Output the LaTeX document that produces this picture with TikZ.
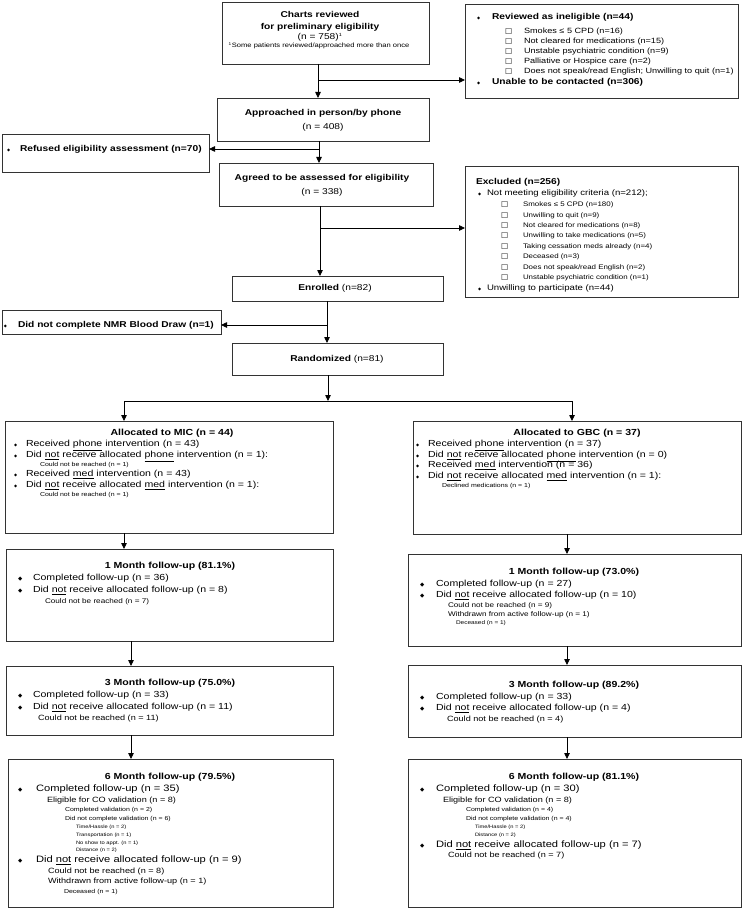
\documentclass[tikz,border=0pt]{standalone}
\usepackage{fontspec}
\setmainfont{Liberation Sans}[FakeStretch=1.2]
\newfontfamily\symf{DejaVu Sans}
\usetikzlibrary{arrows.meta,calc,fit}
\newcommand\fsz[1]{\fontsize{#1}{#1}\selectfont}
\newcommand\bl{{\symf\fsz{4}◆}}
\newcommand\bL{{\symf\fsz{5.5}◆}}
\newcommand\cbx{{\symf\fsz{7.5}□}}
\begin{document}
\begin{tikzpicture}[x=1pt,y=-1pt,
 box/.style={draw=black!80,line width=0.9pt,inner sep=0pt,outer sep=0pt},
 arr/.style={draw=black,line width=0.8pt,-{Triangle[length=6pt,width=5.5pt]}},
 ln/.style={draw=black,line width=0.8pt},
 tl/.style={anchor=mid west,inner sep=0pt,outer sep=0pt},
 tc/.style={anchor=mid,inner sep=0pt,outer sep=0pt},
 hb/.style={font=\bfseries\fsz{8.5}},
 rg/.style={font=\fsz{8.5}},
 sm/.style={font=\fsz{7.6}},
 xs/.style={font=\fsz{6.6}},
 it/.style={font=\fsz{8.8}},
 s1/.style={font=\fsz{6.8}},
 s2/.style={font=\fsz{7.6}},
 s3/.style={font=\fsz{5.8}},
 s4/.style={font=\fsz{4.8}}]
\useasboundingbox (0,0) rectangle (742,909);
\fill[white] (0,0) rectangle (742,909);
% boxes
\node[box,fit={(222,2) (429,64)}] (B1) {};
\node[box,fit={(465,4) (738,98)}] (B2) {};
\node[box,fit={(217,98) (429,141)}] (B3) {};
\node[box,fit={(2,134) (209,172)}] (B4) {};
\node[box,fit={(219,163) (433,206)}] (B5) {};
\node[box,fit={(465,166) (738,297)}] (B6) {};
\node[box,fit={(232,276) (443,301)}] (B7) {};
\node[box,fit={(2,310) (221,334)}] (B8) {};
\node[box,fit={(232,343) (443,375)}] (B9) {};
\node[box,fit={(5,421) (333,533)}] (B10) {};
\node[box,fit={(413,421) (741,534)}] (B11) {};
\node[box,fit={(6,549) (333,641)}] (B12) {};
\node[box,fit={(408,554) (741,646)}] (B13) {};
\node[box,fit={(6,666) (333,735)}] (B14) {};
\node[box,fit={(408,665) (741,737)}] (B15) {};
\node[box,fit={(8,759) (333,907)}] (B16) {};
\node[box,fit={(408,759) (741,907)}] (B17) {};
% connectors
\coordinate (c1) at ($(B1.south west)+(96,0)$);
\draw[arr] (c1) -- (c1 |- B3.north);
\coordinate (j1) at (318,80);
\draw[arr] (j1) -- (j1 -| B2.west);
\coordinate (c2) at ($(B3.south west)+(102,0)$);
\draw[arr] (c2) -- (c2 |- B5.north);
\coordinate (j2) at (319,149);
\draw[arr] (j2) -- (j2 -| B4.east);
\coordinate (c3) at ($(B5.south west)+(101,0)$);
\draw[arr] (c3) -- (c3 |- B7.north);
\coordinate (j3) at (320,228);
\draw[arr] (j3) -- (j3 -| B6.west);
\coordinate (c4) at ($(B7.south west)+(95,0)$);
\draw[arr] (c4) -- (c4 |- B9.north);
\coordinate (j4) at (327,325);
\draw[arr] (j4) -- (j4 -| B8.east);
\coordinate (c5) at ($(B9.south west)+(96,0)$);
\coordinate (j5) at (328,401);
\draw[arr] (c5) -- (j5);
\coordinate (j6) at (124,401);
\coordinate (j7) at (572,401);
\draw[ln] (j6) -- (j7);
\draw[arr] (j6) -- (j6 |- B10.north);
\draw[arr] (j7) -- (j7 |- B11.north);
\coordinate (c6) at ($(B10.south west)+(119,0)$);
\draw[arr] (c6) -- (c6 |- B12.north);
\coordinate (c7) at ($(B11.south west)+(154,0)$);
\draw[arr] (c7) -- (c7 |- B13.north);
\coordinate (c8) at ($(B12.south west)+(125,0)$);
\draw[arr] (c8) -- (c8 |- B14.north);
\coordinate (c9) at ($(B13.south west)+(159,0)$);
\draw[arr] (c9) -- (c9 |- B15.north);
\coordinate (c10) at ($(B14.south west)+(125,0)$);
\draw[arr] (c10) -- (c10 |- B16.north);
\coordinate (c11) at ($(B15.south west)+(159,0)$);
\draw[arr] (c11) -- (c11 |- B17.north);
% B1
\node[tc,hb] (t1) at (320,15) {Charts reviewed};
\node[tc,hb] (t2) at (320,27) {for preliminary eligibility};
\node[tc,rg] (t3) at (320,37) {(n = 758)\textsuperscript{\fsz{4.5}1}};
\node[tc,font=\fsz{6.3}] (t4) at (319,45) {\textsuperscript{\fsz{4}1}Some patients reviewed/approached more than once};
% B2
\node[tl] (t5) at (477,17) {\bl};
\node[tl,hb] (t6) at (492,17) {Reviewed as ineligible (n=44)};
\node[tl] (t7a) at (505,31) {\cbx};
\node[tl,sm] (t7) at (524,31) {Smokes ≤ 5 CPD (n=16)};
\node[tl] (t8a) at (505,41) {\cbx};
\node[tl,sm] (t8) at (524,41) {Not cleared for medications (n=15)};
\node[tl] (t9a) at (505,51) {\cbx};
\node[tl,sm] (t9) at (524,51) {Unstable psychiatric condition (n=9)};
\node[tl] (t10a) at (505,61) {\cbx};
\node[tl,sm] (t10) at (524,61) {Palliative or Hospice care (n=2)};
\node[tl] (t11a) at (505,71) {\cbx};
\node[tl,sm] (t11) at (524,71) {Does not speak/read English; Unwilling to quit (n=1)};
\node[tl] (t12) at (477,82) {\bl};
\node[tl,hb] (t13) at (492,82) {Unable to be contacted (n=306)};
% B3, B4, B5
\node[tc,hb] (t14) at (323,113) {Approached in person/by phone};
\node[tc,rg] (t15) at (323,127) {(n = 408)};
\node[tl] (t16) at (7,149) {\bl};
\node[tl,hb] (t17) at (20,149) {Refused eligibility assessment (n=70)};
\node[tc,hb] (t18) at (322,178) {Agreed to be assessed for eligibility};
\node[tc,rg] (t19) at (322,192) {(n = 338)};
% B6
\node[tl,hb] (t20) at (476,182) {Excluded (n=256)};
\node[tl] (t21) at (478,193) {\bl};
\node[tl,font=\fsz{8}] (t22) at (487,193) {Not meeting eligibility criteria (n=212);};
\node[tl] (t23a) at (501,204) {\cbx};
\node[tl,xs] (t23) at (523,204) {Smokes ≤ 5 CPD (n=180)};
\node[tl] (t24a) at (501,214.4) {\cbx};
\node[tl,xs] (t24) at (523,214.4) {Unwilling to quit (n=9)};
\node[tl] (t25a) at (501,224.8) {\cbx};
\node[tl,xs] (t25) at (523,224.8) {Not cleared for medications (n=8)};
\node[tl] (t26a) at (501,235.2) {\cbx};
\node[tl,xs] (t26) at (523,235.2) {Unwilling to take medications (n=5)};
\node[tl] (t27a) at (501,245.6) {\cbx};
\node[tl,xs] (t27) at (523,245.6) {Taking cessation meds already (n=4)};
\node[tl] (t28a) at (501,256) {\cbx};
\node[tl,xs] (t28) at (523,256) {Deceased (n=3)};
\node[tl] (t29a) at (501,266.4) {\cbx};
\node[tl,xs] (t29) at (523,266.4) {Does not speak/read English (n=2)};
\node[tl] (t30a) at (501,276.8) {\cbx};
\node[tl,xs] (t30) at (523,276.8) {Unstable psychiatric condition (n=1)};
\node[tl] (t31) at (478,287.5) {\bl};
\node[tl,font=\fsz{8}] (t32) at (487,287.5) {Unwilling to participate (n=44)};
% B7 B8 B9
\node[tc,rg] (t33) at (335,288) {\textbf{Enrolled} (n=82)};
\node[tl] (t34) at (4,325) {\bl};
\node[tl,hb] (t35) at (18,325) {Did not complete NMR Blood Draw (n=1)};
\node[tc,rg] (t36) at (337,359) {\textbf{Randomized} (n=81)};
% B10 MIC
\node[tc,font=\bfseries\fsz{8.8}] (t37) at (172,433) {Allocated to MIC (n = 44)};
\node[tl] (t38a) at (14,444) {\bl};
\node[tl,it] (t38) at (26,444) {Received \underline{phone} intervention (n = 43)};
\node[tl] (t39a) at (14,455) {\bl};
\node[tl,it] (t39) at (26,455) {Did \underline{not} receive allocated \underline{phone} intervention (n = 1):};
\node[tl,s3] (t40) at (40,464) {Could not be reached (n = 1)};
\node[tl] (t41a) at (14,474) {\bl};
\node[tl,it] (t41) at (26,474) {Received \underline{med} intervention (n = 43)};
\node[tl] (t42a) at (14,485) {\bl};
\node[tl,it] (t42) at (26,485) {Did \underline{not} receive allocated \underline{med} intervention (n = 1):};
\node[tl,s3] (t43) at (40,494) {Could not be reached (n = 1)};
% B11 GBC
\node[tc,font=\bfseries\fsz{8.8}] (t44) at (577,433) {Allocated to GBC (n = 37)};
\node[tl] (t45a) at (416,444) {\bl};
\node[tl,it] (t45) at (428,444) {Received \underline{phone} intervention (n = 37)};
\node[tl] (t46a) at (416,455) {\bl};
\node[tl,it] (t46) at (428,455) {Did \underline{not} receive allocated \underline{phone} intervention (n = 0)};
\node[tl] (t47a) at (416,465) {\bl};
\node[tl,it] (t47) at (428,465) {Received \underline{med} intervention (n = 36)};
\node[tl] (t48a) at (416,476) {\bl};
\node[tl,it] (t48) at (428,476) {Did \underline{not} receive allocated \underline{med} intervention (n = 1):};
\node[tl,s3] (t49) at (442,485) {Declined medications (n = 1)};
% B12 1m MIC
\node[tc,font=\bfseries\fsz{8.8}] (t50) at (170,566) {1 Month follow-up (81.1\%)};
\node[tl] (t51a) at (18,578) {\bL};
\node[tl,it] (t51) at (33,578) {Completed follow-up (n = 36)};
\node[tl] (t52a) at (18,590) {\bL};
\node[tl,it] (t52) at (33,590) {Did \underline{not} receive allocated follow-up (n = 8)};
\node[tl,s1] (t53) at (45,601) {Could not be reached (n = 7)};
% B13 1m GBC
\node[tc,font=\bfseries\fsz{8.8}] (t54) at (574,572) {1 Month follow-up (73.0\%)};
\node[tl] (t55a) at (420,584) {\bL};
\node[tl,it] (t55) at (436,584) {Completed follow-up (n = 27)};
\node[tl] (t56a) at (420,595) {\bL};
\node[tl,it] (t56) at (436,595) {Did \underline{not} receive allocated follow-up (n = 10)};
\node[tl,s1] (t57) at (448,605) {Could not be reached (n = 9)};
\node[tl,s1] (t58) at (448,614) {Withdrawn from active follow-up (n = 1)};
\node[tl,font=\fsz{5.4}] (t59) at (456,622) {Deceased (n = 1)};
% B14 3m MIC
\node[tc,font=\bfseries\fsz{8.8}] (t60) at (170,683) {3 Month follow-up (75.0\%)};
\node[tl] (t61a) at (18,695) {\bL};
\node[tl,it] (t61) at (33,695) {Completed follow-up (n = 33)};
\node[tl] (t62a) at (18,707) {\bL};
\node[tl,it] (t62) at (33,707) {Did \underline{not} receive allocated follow-up (n = 11)};
\node[tl,s2] (t63) at (38,718) {Could not be reached (n = 11)};
% B15 3m GBC
\node[tc,font=\bfseries\fsz{8.8}] (t64) at (574,685) {3 Month follow-up (89.2\%)};
\node[tl] (t65a) at (420,697) {\bL};
\node[tl,it] (t65) at (436,697) {Completed follow-up (n = 33)};
\node[tl] (t66a) at (420,708) {\bL};
\node[tl,it] (t66) at (436,708) {Did \underline{not} receive allocated follow-up (n = 4)};
\node[tl,s2] (t67) at (447,719) {Could not be reached (n = 4)};
% B16 6m MIC
\node[tc,font=\bfseries\fsz{8.8}] (t68) at (170,777) {6 Month follow-up (79.5\%)};
\node[tl] (t69a) at (18,789) {\bL};
\node[tl,font=\fsz{9.3}] (t69) at (36,789) {Completed follow-up (n = 35)};
\node[tl,s2] (t70) at (47,800) {Eligible for CO validation (n = 8)};
\node[tl,s3] (t71) at (65,809) {Completed validation (n = 2)};
\node[tl,s3] (t72) at (65,818) {Did not complete validation (n = 6)};
\node[tl,s4] (t73) at (76,826) {Time/Hassle (n = 2)};
\node[tl,s4] (t74) at (76,834) {Transportation (n = 1)};
\node[tl,s4] (t75) at (76,842) {No show to appt. (n = 1)};
\node[tl,s4] (t76) at (76,849) {Distance (n = 2)};
\node[tl] (t77a) at (18,860) {\bL};
\node[tl,font=\fsz{9.3}] (t77) at (36,860) {Did \underline{not} receive allocated follow-up (n = 9)};
\node[tl,s2] (t78) at (48,871) {Could not be reached (n = 8)};
\node[tl,s2] (t79) at (48,881) {Withdrawn from active follow-up (n = 1)};
\node[tl,s3] (t80) at (64,891) {Deceased (n = 1)};
% B17 6m GBC
\node[tc,font=\bfseries\fsz{8.8}] (t81) at (574,777) {6 Month follow-up (81.1\%)};
\node[tl] (t82a) at (420,789) {\bL};
\node[tl,font=\fsz{9.3}] (t82) at (436,789) {Completed follow-up (n = 30)};
\node[tl,s2] (t83) at (443,800) {Eligible for CO validation (n = 8)};
\node[tl,s3] (t84) at (466,809) {Completed validation (n = 4)};
\node[tl,s3] (t85) at (466,818) {Did not complete validation (n = 4)};
\node[tl,s4] (t86) at (475,826) {Time/Hassle (n = 2)};
\node[tl,s4] (t87) at (475,834) {Distance (n = 2)};
\node[tl] (t88a) at (420,845) {\bL};
\node[tl,font=\fsz{9.3}] (t88) at (436,845) {Did \underline{not} receive allocated follow-up (n = 7)};
\node[tl,s2] (t89) at (448,855) {Could not be reached (n = 7)};
\end{tikzpicture}
\end{document}
